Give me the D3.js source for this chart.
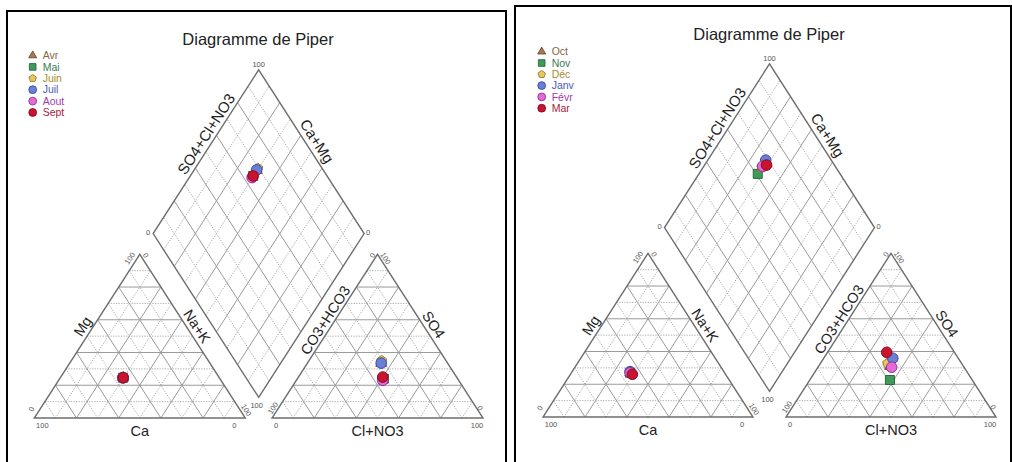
<!DOCTYPE html>
<html>
<head>
<meta charset="utf-8">
<script src="https://cdn.jsdelivr.net/npm/d3@7"></script>
<style>
  body { margin: 0; background: #fff; }
  svg { display: block; }
</style>
</head>
<body>
<svg id="chart" width="1012" height="462"></svg>
<script>
// ---- Samples: April - September ----
const monthsA = ["Avr", "Mai", "Juin", "Juil", "Aout", "Sept"];
// cations (% meq)
const caA  = [45.6, 45.6, 45.5, 45.8, 45.6, 45.6];
const mgA  = [24.6, 24.6, 24.8, 24.6, 24.6, 24.6];
const nakA = [29.8, 29.8, 29.7, 29.6, 29.8, 29.8];
// anions (% meq)
const hco3A = [31.5, 35.0, 30.5, 31.5, 36.0, 35.0];
const so4A  = [33.5, 24.0, 35.0, 33.5, 23.0, 25.0];
const clA   = [35.0, 41.0, 34.5, 35.0, 41.0, 40.0];

// ---- Samples: October - March ----
const monthsB = ["Oct", "Nov", "Déc", "Janv", "Févr", "Mar"];
const caB  = [45.0, 45.0, 45.0, 44.7, 45.0, 44.4];
const mgB  = [27.0, 27.0, 27.0, 27.7, 27.0, 26.1];
const nakB = [28.0, 28.0, 28.0, 27.6, 28.0, 29.5];
const hco3B = [35.0, 39.2, 35.2, 31.2, 34.5, 32.3];
const so4B  = [31.0, 22.6, 32.8, 35.9, 30.4, 39.5];
const clB   = [34.0, 38.2, 32.0, 32.9, 35.1, 28.2];

// Axis names and corner values
const cationAxes = ["Ca", "Mg", "Na+K"];
const anionAxes = ["Cl+NO3", "CO3+HCO3", "SO4"];
const diamondAxes = ["SO4+Cl+NO3", "Ca+Mg"];
const endTicks = ["0", "100"];
const titleText = "Diagramme de Piper";

// Marker style per sample order
const shapes = ["triangle", "square", "pentagon", "circle", "circle", "circle"];
const fills = ["#a97a52", "#3f9a5c", "#e8c75c", "#6a80d6", "#e46ad6", "#c8142f"];
const strokes = ["#6b4a2e", "#2a6a3c", "#9c7c2a", "#3a4aa2", "#9a2c9a", "#8a0a22"];
const textColors = ["#8a6545", "#3a7a52", "#a88a30", "#4a5ab8", "#a23aaa", "#aa2042"];

const svg = d3.select("#chart");
const FONT = "'Liberation Sans', Arial, sans-serif";

function symbolPath(shape, r) {
  if (shape === "circle") return d3.symbol(d3.symbolCircle, Math.PI * r * r)();
  if (shape === "square") return d3.symbol(d3.symbolSquare, (r * 1.7) ** 2)();
  if (shape === "triangle") return d3.symbol(d3.symbolTriangle, r * r * 1.8)();
  // pentagon
  const pts = d3.range(5).map(i => {
    const a = -Math.PI / 2 + i * 2 * Math.PI / 5;
    return [r * Math.cos(a), r * Math.sin(a)];
  });
  return "M" + pts.map(p => p.join(",")).join("L") + "Z";
}

function drawPanel(cfg, months, ca, mg, nak, hco3, so4, cl) {
  const H = Math.sqrt(3) / 2;
  const g = cfg.gap;
  const x = d3.scaleLinear().domain([0, 1]).range([cfg.x0, cfg.x0 + cfg.side]);
  const y = d3.scaleLinear().domain([0, H]).range([cfg.base, cfg.base - cfg.tri]);
  const P = p => [x(p[0]), y(p[1])];
  const root = svg.append("g");

  // frame
  root.append("rect")
    .attr("x", cfg.frame[0]).attr("y", cfg.frame[1])
    .attr("width", cfg.frame[2]).attr("height", cfg.frame[3])
    .attr("fill", "none").attr("stroke", "#000").attr("stroke-width", 2);

  // title
  root.append("text").attr("x", cfg.titleX).attr("y", cfg.titleY)
    .attr("text-anchor", "middle").attr("font-family", FONT)
    .attr("font-size", 16.5).attr("fill", "#222").text(titleText);

  // shapes in unit space
  const cat = { L: [0, 0], R: [1, 0], T: [0.5, H] };
  const an = { L: [1 + g, 0], R: [2 + g, 0], T: [1.5 + g, H] };
  const dm = {
    B: [1 + g / 2, g * H], L: [0.5 + g / 2, H + g * H],
    R: [1.5 + g / 2, H + g * H], T: [1 + g / 2, 2 * H + g * H]
  };
  const lerp = (a, b, t) => [a[0] + (b[0] - a[0]) * t, a[1] + (b[1] - a[1]) * t];
  const add = (a, b, c) => [a[0] + b[0] - c[0], a[1] + b[1] - c[1]];

  const grid = root.append("g");
  function gridLine(a, b, k) {
    const solid = k % 2 === 0;
    const pa = P(a), pb = P(b);
    grid.append("line")
      .attr("x1", pa[0]).attr("y1", pa[1]).attr("x2", pb[0]).attr("y2", pb[1])
      .attr("stroke", solid ? "#9a9a9a" : "#a6a6a6")
      .attr("stroke-width", solid ? 1 : 0.9)
      .attr("stroke-dasharray", solid ? null : "1.3,1.3");
  }
  function triGrid(t) {
    for (let k = 1; k < 10; k++) {
      const f = k / 10;
      gridLine(lerp(t.L, t.T, f), lerp(t.R, t.T, f), k);   // parallel to base
      gridLine(lerp(t.L, t.R, f), lerp(t.T, t.R, f), k);   // parallel to left edge
      gridLine(lerp(t.R, t.L, f), lerp(t.T, t.L, f), k);   // parallel to right edge
    }
  }
  triGrid(cat);
  triGrid(an);
  for (let k = 1; k < 10; k++) {
    const f = k / 10;
    const a1 = lerp(dm.B, dm.L, f);
    gridLine(a1, add(a1, dm.R, dm.B), k);
    const a2 = lerp(dm.B, dm.R, f);
    gridLine(a2, add(a2, dm.L, dm.B), k);
  }

  // outlines
  const outline = pts => "M" + pts.map(p => P(p).join(",")).join("L") + "Z";
  [[cat.L, cat.R, cat.T], [an.L, an.R, an.T], [dm.B, dm.R, dm.T, dm.L]].forEach(shape => {
    root.append("path").attr("d", outline(shape))
      .attr("fill", "none").attr("stroke", "#6e6e6e").attr("stroke-width", 1.4);
  });

  // axis names along edges
  const labels = root.append("g").attr("font-family", FONT).attr("fill", "#222");
  function along(a, b, f, txt, size, off) {
    const pa = P(a), pb = P(b);
    const ang = Math.atan2(pb[1] - pa[1], pb[0] - pa[0]) * 180 / Math.PI;
    const m = [pa[0] + (pb[0] - pa[0]) * f, pa[1] + (pb[1] - pa[1]) * f];
    labels.append("text")
      .attr("transform", `translate(${m[0]},${m[1]}) rotate(${ang})`)
      .attr("y", -off).attr("text-anchor", "middle")
      .attr("font-size", size).text(txt);
  }
  function below(a, b, txt) {
    const pa = P(a), pb = P(b);
    labels.append("text").attr("x", (pa[0] + pb[0]) / 2).attr("y", pa[1] + 18)
      .attr("text-anchor", "middle").attr("font-size", 14.5).text(txt);
  }
  below(cat.L, cat.R, cationAxes[0]);
  along(cat.L, cat.T, 0.53, cationAxes[1], 14.5, 4);
  along(cat.T, cat.R, 0.47, cationAxes[2], 14.5, 4);
  below(an.L, an.R, anionAxes[0]);
  along(an.L, an.T, 0.57, anionAxes[1], 14.5, 3);
  along(an.T, an.R, 0.46, anionAxes[2], 14.5, 4);
  along(dm.L, dm.T, 0.577, diamondAxes[0], 15, 4);
  along(dm.T, dm.R, 0.47, diamondAxes[1], 15, 5);

  // corner values
  const ticks = root.append("g").attr("font-family", FONT).attr("fill", "#555")
    .attr("font-size", 7.5).attr("text-anchor", "middle");
  const angL = Math.atan2(y(H) - y(0), x(0.5) - x(0)) * 180 / Math.PI;
  function tick(v, dx, dy, txt, rot) {
    const p = P(v);
    ticks.append("text")
      .attr("transform", `translate(${p[0] + dx},${p[1] + dy}) rotate(${rot || 0})`)
      .attr("dy", "0.35em").text(txt);
  }
  // cation triangle
  tick(cat.L, 8, 7, endTicks[1]);
  tick(cat.L, -3, -9, endTicks[0], angL);
  tick(cat.T, -10, 4, endTicks[1], angL);
  tick(cat.T, 6, 1, endTicks[0], -angL);
  tick(cat.R, 1, -8, endTicks[1], -angL);
  tick(cat.R, -11, 7, endTicks[0]);
  // anion triangle
  tick(an.L, 4, 7, endTicks[0]);
  tick(an.L, 1, -10, endTicks[1], angL);
  tick(an.T, -5, 1, endTicks[0], angL);
  tick(an.T, 8, 4, endTicks[1], -angL);
  tick(an.R, -3, -10, endTicks[0], -angL);
  tick(an.R, -6, 7, endTicks[1]);
  // diamond
  tick(dm.T, 0, -6, endTicks[1]);
  tick(dm.L, -5, -1, endTicks[0]);
  tick(dm.R, 4, -1, endTicks[0]);
  tick(dm.B, -2, 8, endTicks[1]);

  // sample positions: cation point, anion point and their projection in the diamond
  const pts = months.map((m, i) => {
    const c = [(nak[i] + mg[i] / 2) / 100, mg[i] / 100 * H];
    const a = [1 + g + (cl[i] + so4[i] / 2) / 100, so4[i] / 100 * H];
    const t = (a[0] - c[0]) + (so4[i] - mg[i]) / 200;
    const d = [c[0] + t / 2, c[1] + t * H];
    return { i, c, a, d };
  });
  const marks = root.append("g");
  ["c", "a", "d"].forEach(key => {
    pts.forEach(p => {
      const q = P(p[key]);
      marks.append("path")
        .attr("d", symbolPath(shapes[p.i], 5.3))
        .attr("transform", `translate(${q[0]},${q[1]})`)
        .attr("fill", fills[p.i]).attr("stroke", strokes[p.i]).attr("stroke-width", 1);
    });
  });

  // legend
  const leg = root.append("g").attr("font-family", FONT).attr("font-size", 10.5);
  months.forEach((m, i) => {
    const yy = cfg.legY + i * cfg.legStep;
    leg.append("path").attr("d", symbolPath(shapes[i], 3.9))
      .attr("transform", `translate(${cfg.legX},${yy})`)
      .attr("fill", fills[i]).attr("stroke", strokes[i]).attr("stroke-width", 0.9);
    leg.append("text").attr("x", cfg.legX + 10).attr("y", yy).attr("dy", "0.36em")
      .attr("fill", textColors[i]).text(m);
  });
}

drawPanel({
  x0: 34.3, base: 418, side: 211, tri: 163.7, gap: 26.7 / 211,
  frame: [7, 11, 499, 460], titleX: 258, titleY: 45,
  legX: 32.7, legY: 55.5, legStep: 11.4
}, monthsA, caA, mgA, nakA, hco3A, so4A, clA);

drawPanel({
  x0: 543, base: 417, side: 210, tri: 163.7, gap: 33 / 210,
  frame: [515, 6, 496, 465], titleX: 769, titleY: 40,
  legX: 541.7, legY: 51.7, legStep: 11.3
}, monthsB, caB, mgB, nakB, hco3B, so4B, clB);
</script>
</body>
</html>
